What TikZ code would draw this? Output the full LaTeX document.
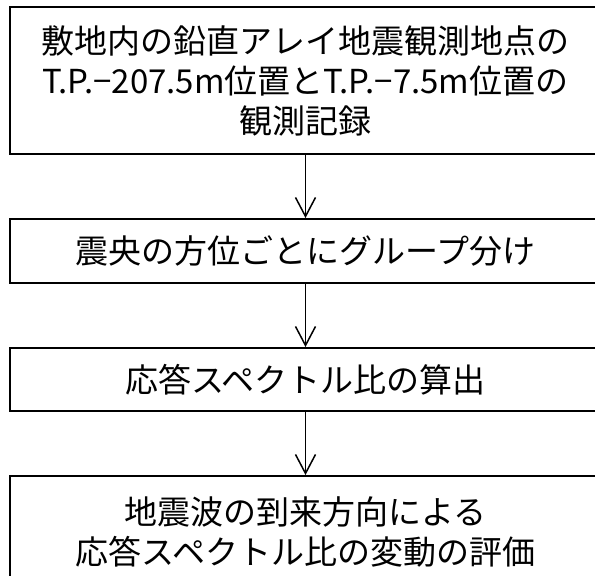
\documentclass[tikz,border=0pt]{standalone}
\usepackage{fontspec}
\setmainfont{Noto Sans CJK JP}
\usetikzlibrary{arrows.meta}
\tikzset{
  stepbox/.style={draw=black, line width=1.9pt, minimum width=591pt, inner sep=0pt, align=center,
    font=\fontsize{33}{40}\selectfont},
  flow/.style={line width=1.5pt, -{Straight Barb[length=19pt,width=20pt,line width=1.5pt]}}
}
\begin{document}
\begin{tikzpicture}[x=1pt,y=-1pt]
\useasboundingbox (0,0) rectangle (595,576);
\clip (0,0) rectangle (595,576);
\node[stepbox, minimum height=147pt] (b1) at (305.5,80.5) {敷地内の鉛直アレイ地震観測地点の\\T.P.−207.5m位置とT.P.−7.5m位置の\\観測記録};
\node[stepbox, minimum height=64pt] (b2) at (305.5,251) {震央の方位ごとにグループ分け};
\node[stepbox, minimum height=63pt] (b3) at (305.5,379.5) {応答スペクトル比の算出};
\node[stepbox, minimum height=112pt] (b4) at (305.5,532) {地震波の到来方向による\\応答スペクトル比の変動の評価};
\draw[flow] (b1.south) -- (b2.north);
\draw[flow] (b2.south) -- (b3.north);
\draw[flow] (b3.south) -- (b4.north);
\end{tikzpicture}
\end{document}
